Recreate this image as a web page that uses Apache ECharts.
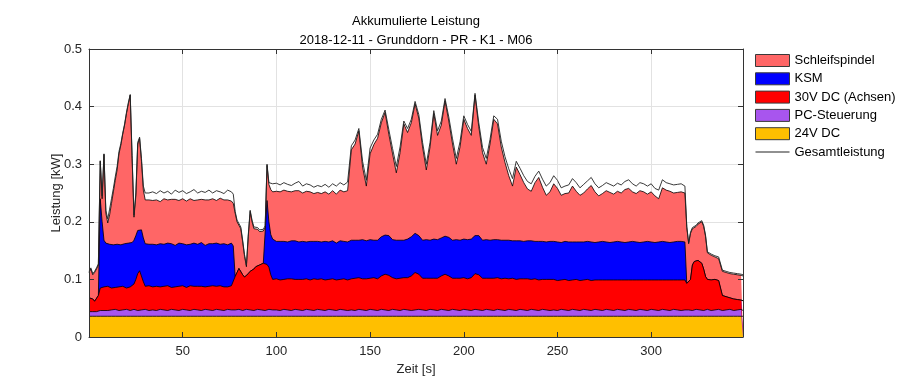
<!DOCTYPE html>
<html><head><meta charset="utf-8">
<script src="https://cdn.jsdelivr.net/npm/echarts@6/dist/echarts.min.js"></script>
<style>html,body{margin:0;padding:0;background:#fff}#c{width:912px;height:381px}</style>
</head><body><div id="c"></div>
<script>
// Zeit [s]
const time = [
0,1,2,3,4,5,6,7,8,9,10,11,12,13,14,15,16,17,18,19,20,21,22,23,24,25,26,27,28,29,30,31,32,
34,36,38,40,42,44,46,48,50,52,54,56,58,60,62,64,66,68,70,72,74,76,
77,78,79,80,81,82,83,84,85,86,87,88,89,90,91,92,93,94,95,96,97,98,99,
100,102,104,106,108,110,112,114,116,118,120,122,124,126,128,130,132,134,136,138,
140,142,144,146,148,150,152,154,156,158,160,162,164,166,168,170,172,174,176,178,
180,182,184,186,188,190,192,194,196,198,200,202,204,206,208,210,212,214,216,218,
220,222,224,226,228,230,232,234,236,238,240,242,244,246,
248,250,252,254,256,258,260,262,264,266,268,270,272,274,276,278,280,282,284,286,
288,290,292,294,296,298,300,302,304,306,308,310,312,314,
315,316,317,318,319,320,321,322,323,324,325,326,327,328,329,330,
332,334,336,338,340,342,344,346,348,349
];
// 24V DC [kW]
const dc24 = [
.036,.036,.036,.036,.036,.036,.036,.036,.036,.036,
.036,.036,.036,.036,.036,.036,.036,.036,.036,.036,
.036,.036,.036,.036,.036,.036,.036,.036,.036,.036,
.036,.036,.036,.036,.036,.036,.036,.036,.036,.036,
.036,.036,.036,.036,.036,.036,.036,.036,.036,.036,
.036,.036,.036,.036,.036,.036,.036,.036,.036,.036,
.036,.036,.036,.036,.036,.036,.036,.036,.036,.036,
.036,.036,.036,.036,.036,.036,.036,.036,.036,.036,
.036,.036,.036,.036,.036,.036,.036,.036,.036,.036,
.036,.036,.036,.036,.036,.036,.036,.036,.036,.036,
.036,.036,.036,.036,.036,.036,.036,.036,.036,.036,
.036,.036,.036,.036,.036,.036,.036,.036,.036,.036,
.036,.036,.036,.036,.036,.036,.036,.036,.036,.036,
.036,.036,.036,.036,.036,.036,.036,.036,.036,.036,
.036,.036,.036,.036,.036,.036,.036,.036,.036,.036,
.036,.036,.036,.036,.036,.036,.036,.036,.036,.036,
.036,.036,.036,.036,.036,.036,.036,.036,.036,.036,
.036,.036,.036,.036,.036,.036,.036,.036,.036,.036,
.036,.036,.036,.036,.036,.036,.036,.036,.036,.036,
.036,.036,.036,.036,.036,.036,.036,.036,.036,.036,
.036,.036,.036,.036,.036,.036,.036,.036,.036,.036,
.036,.036
];
// PC-Steuerung [kW]
const pcSteuerung = [
.008,.009,.008,.009,.008,.009,.010,.011,.010,.011,.010,.012,.011,.010,.012,.011,.010,.012,.011,.010,.012,.011,.010,.011,.012,.011,.010,.012,.011,.010,.012,.011,.010,
.011,.010,.012,.011,.010,.012,.011,.010,.012,.011,.010,.012,.011,.010,.012,.011,.010,.012,.011,.010,.012,.011,
.010,.011,.010,.012,.011,.010,.011,.012,.010,.011,.012,.010,.011,.012,.010,.011,.012,.010,.011,.012,.010,.011,.012,
.011,.010,.012,.011,.010,.012,.011,.010,.012,.011,.010,.012,.011,.010,.012,.011,.010,.012,.011,.010,
.011,.010,.012,.011,.010,.012,.011,.010,.012,.011,.010,.012,.011,.010,.012,.011,.010,.011,.012,.011,
.010,.012,.011,.010,.012,.011,.010,.012,.011,.010,.012,.011,.010,.012,.011,.010,.012,.011,.010,.012,
.011,.010,.012,.011,.010,.012,.011,.010,.012,.011,.010,.012,.011,.010,
.011,.010,.012,.011,.010,.012,.011,.010,.012,.011,.010,.012,.011,.010,.012,.011,.010,.012,.011,.010,
.012,.011,.010,.012,.011,.010,.012,.011,.010,.012,.011,.010,.012,.011,
.011,.010,.012,.011,.010,.011,.012,.010,.011,.012,.010,.011,.012,.010,.011,.012,
.010,.011,.012,.010,.011,.012,.010,.011,.012,.010
];
// 30V DC (Achsen) [kW]
const dc30Achsen = [
.024,.025,.022,.017,.020,.027,.039,.041,.041,.039,.042,.039,.038,.042,.038,.042,.041,.038,.041,.041,.037,.041,.041,.042,.044,.053,.064,.067,.065,.050,.040,.040,.043,
.040,.042,.039,.041,.043,.038,.040,.042,.041,.039,.043,.040,.041,.042,.039,.041,.043,.040,.042,.041,.039,.042,
.043,.058,.066,.071,.069,.062,.057,.058,.064,.067,.068,.072,.075,.076,.079,.080,.080,.083,.079,.073,.062,.053,.053,
.054,.053,.052,.054,.055,.052,.053,.054,.053,.052,.055,.052,.054,.053,.052,.054,.053,.052,.054,.053,
.054,.056,.055,.054,.055,.054,.056,.055,.058,.062,.061,.055,.054,.056,.055,.056,.060,.065,.061,.055,
.056,.054,.055,.056,.058,.062,.060,.054,.055,.056,.055,.054,.057,.062,.061,.056,.054,.055,.056,.055,
.054,.056,.053,.055,.054,.053,.054,.055,.052,.054,.053,.052,.053,.054,
.053,.052,.051,.053,.052,.051,.053,.052,.051,.053,.052,.051,.052,.053,.051,.052,.053,.051,.052,.053,
.051,.052,.053,.051,.052,.053,.051,.052,.053,.051,.052,.053,.051,.052,
.052,.053,.051,.052,.047,.046,.052,.079,.084,.084,.087,.083,.080,.072,.058,.052,
.053,.053,.050,.026,.023,.020,.020,.018,.016,.017
];
// KSM [kW]
const ksm = [
0,0,0,0,0,0,.155,.112,.081,.077,.074,.074,.078,.072,.076,.072,.076,.074,.073,.075,.075,.075,.075,.075,.076,.076,.075,.073,.074,.076,.074,.073,.072,
.074,.072,.075,.073,.074,.076,.072,.075,.073,.074,.072,.075,.073,.076,.072,.074,.073,.075,.072,.075,.073,.074,
.069,0,0,0,0,0,0,0,0,0,0,0,0,0,0,0,0,0,.111,.079,.070,.070,.066,
.065,.067,.066,.064,.066,.067,.065,.066,.064,.067,.065,.066,.064,.067,.065,.066,.064,.067,.065,.066,
.067,.066,.065,.068,.066,.067,.065,.067,.068,.068,.069,.066,.067,.066,.065,.067,.068,.068,.067,.066,
.067,.066,.068,.067,.066,.066,.067,.066,.067,.066,.067,.068,.067,.066,.068,.066,.067,.066,.067,.066,
.067,.066,.067,.065,.067,.066,.065,.066,.067,.065,.067,.066,.065,.066,
.066,.067,.065,.066,.067,.066,.065,.067,.066,.066,.067,.065,.066,.067,.066,.065,.066,.067,.066,.065,
.066,.067,.066,.065,.066,.067,.066,.065,.066,.067,.066,.065,.066,.067,
.066,.067,.066,.066,0,0,0,0,0,0,0,0,0,0,0,0,
0,0,0,0,0,0,0,0,0,0
];
// Schleifspindel [kW]
const schleifspindel = [
.044,.048,.042,.050,.054,.053,.065,.040,.149,.052,.036,.051,.069,.092,.110,.129,.155,.173,.191,.206,.228,.242,.258,.146,.040,.069,.150,.157,.119,.083,.076,.076,.077,
.076,.078,.073,.079,.075,.077,.080,.074,.078,.076,.079,.074,.077,.075,.079,.076,.078,.074,.080,.076,.078,.073,
.074,.110,.088,.079,.072,.057,.036,.016,.065,.104,.084,.070,.063,.063,.058,.059,.056,.061,.061,.065,.078,.082,.087,
.087,.086,.089,.088,.085,.087,.089,.084,.088,.086,.083,.085,.084,.086,.083,.087,.085,.088,.086,.089,
.157,.167,.190,.126,.095,.149,.166,.177,.198,.213,.176,.149,.117,.152,.202,.185,.198,.225,.204,.162,
.121,.162,.218,.181,.196,.235,.202,.167,.131,.162,.208,.193,.180,.244,.189,.152,.131,.167,.209,.201,
.162,.135,.112,.095,.128,.115,.102,.090,.086,.102,.111,.094,.081,.086,
.100,.093,.082,.083,.085,.097,.088,.081,.085,.091,.098,.088,.080,.083,.089,.087,.083,.087,.085,.092,
.093,.086,.084,.090,.087,.082,.087,.081,.075,.093,.090,.089,.085,.085,
.085,.086,.084,.085,.097,.069,.080,.063,.055,.060,.063,.064,.072,.074,.070,.046,
.043,.039,.038,.042,.042,.042,.043,.043,.043,.043
];
// Gesamtleistung [kW]
const gesamtleistung = [
.114,.120,.110,.114,.120,.127,.306,.245,.318,.220,.205,.222,.240,.258,.278,.296,.322,.336,.354,.370,.390,.407,.421,.315,.212,.250,.338,.347,.310,.262,.250,.252,.250,
.252,.249,.254,.250,.253,.248,.255,.251,.254,.249,.252,.256,.250,.253,.251,.255,.250,.254,.252,.249,.255,.252,
.248,.218,.203,.201,.191,.168,.143,.125,.178,.220,.203,.191,.188,.190,.186,.189,.187,.193,.300,.268,.268,.266,.264,
.267,.264,.268,.265,.263,.267,.270,.262,.266,.264,.260,.263,.261,.265,.260,.266,.262,.268,.264,.269,
.332,.342,.362,.305,.272,.328,.342,.352,.378,.394,.360,.327,.296,.330,.375,.362,.378,.409,.386,.338,
.300,.338,.393,.358,.375,.414,.382,.344,.310,.339,.384,.369,.357,.423,.372,.329,.310,.343,.384,.378,
.340,.313,.292,.275,.305,.293,.280,.270,.266,.279,.288,.274,.262,.268,
.280,.272,.259,.262,.264,.275,.268,.259,.265,.271,.277,.266,.259,.263,.268,.265,.262,.267,.264,.270,
.273,.266,.262,.268,.266,.262,.266,.258,.255,.273,.268,.266,.264,.265,
.264,.266,.263,.262,.192,.164,.182,.190,.188,.194,.198,.196,.202,.194,.177,.148,
.144,.141,.139,.116,.114,.112,.111,.110,.109,.108
];
const xTicks = [50,100,150,200,250,300];
const yTicks = [0,0.1,0.2,0.3,0.4,0.5];
const titleLines = ['Akkumulierte Leistung','2018-12-11 - Grunddorn - PR - K1 - M06'];

const FONT = '"Liberation Sans", Arial, Helvetica, sans-serif';
const TXT = '#262626';
const C = {s:'#FF6666', k:'#0000FF', r:'#FF0000', p:'#A855EE', o:'#FFBF00'};

// stacked layers, bottom to top; cumulative tops computed from the component arrays
const layers = [
  {name:'24V DC', data:dc24, color:C.o},
  {name:'PC-Steuerung', data:pcSteuerung, color:C.p},
  {name:'30V DC (Achsen)', data:dc30Achsen, color:C.r},
  {name:'KSM', data:ksm, color:C.k},
  {name:'Schleifspindel', data:schleifspindel, color:C.s}
];
const running = time.map(()=>0);
const layerSeries = layers.map((L, k) => {
  const pts = time.map((t,i) => { running[i] += L.data[i]; return [t, +running[i].toFixed(4)]; });
  return {name:L.name, type:'line', data:pts, symbol:'none', showSymbol:false, clip:false,
    lineStyle:{color:'#000', width:0.8}, areaStyle:{color:L.color, opacity:1, origin:'start'},
    itemStyle:{color:L.color}, z:7-k, silent:true};
});

const chart = echarts.init(document.getElementById('c'));
const axX = {type:'value', min:0, max:349, interval:50};
const axY = {type:'value', min:0, max:0.5, interval:0.1};
const lineAx = {show:true, onZero:false, lineStyle:{color:'#333', width:1}};
const tickAx = {show:true, inside:true, length:5, lineStyle:{color:'#333', width:1}};
chart.setOption({
  animation:false,
  backgroundColor:'#fff',
  grid:{left:89, top:49, width:654, height:290},
  xAxis:[
    Object.assign({}, axX, {position:'bottom', z:10, axisLine:lineAx, axisTick:tickAx, splitLine:{show:false},
      axisLabel:{margin:8, color:TXT, fontSize:13, fontFamily:FONT,
        formatter:v=> xTicks.indexOf(v) >= 0 ? String(v) : ''},
      name:'Zeit [s]', nameLocation:'middle', nameGap:26, nameMoveOverlap:false,
      nameTextStyle:{color:TXT, fontSize:13, fontFamily:FONT}}),
    Object.assign({}, axX, {position:'top', z:10, axisLine:lineAx, axisTick:tickAx, axisLabel:{show:false}, splitLine:{show:false}}),
    Object.assign({}, axX, {position:'bottom', z:0, axisLine:{show:false}, axisTick:{show:false}, axisLabel:{show:false},
      splitLine:{show:true, lineStyle:{color:'#e2e2e2', width:1}}})
  ],
  yAxis:[
    Object.assign({}, axY, {position:'left', z:10, axisLine:lineAx, axisTick:tickAx, splitLine:{show:false},
      axisLabel:{margin:7, color:TXT, fontSize:13, fontFamily:FONT,
        formatter:v=>{ const k = yTicks.findIndex(t=>Math.abs(t-v)<1e-9); return k<0 ? '' : (k===0 ? '0' : yTicks[k].toFixed(1)); }},
      name:'Leistung [kW]', nameLocation:'middle', nameGap:26, nameRotate:90, nameMoveOverlap:false,
      nameTextStyle:{color:TXT, fontSize:13, fontFamily:FONT}}),
    Object.assign({}, axY, {position:'right', z:10, axisLine:lineAx, axisTick:tickAx, axisLabel:{show:false}, splitLine:{show:false}}),
    Object.assign({}, axY, {position:'left', z:0, axisLine:{show:false}, axisTick:{show:false}, axisLabel:{show:false},
      splitLine:{show:true, lineStyle:{color:'#e2e2e2', width:1}}})
  ],
  legend:{
    orient:'vertical', left:755, top:54, padding:0, itemWidth:34, itemHeight:12, itemGap:5.3,
    selectedMode:false, textStyle:{fontSize:13, fontFamily:FONT, color:'#000'},
    data:[
      {name:'Schleifspindel', icon:'rect', itemStyle:{color:C.s, borderColor:'#3a3a3a', borderWidth:1}},
      {name:'KSM', icon:'rect', itemStyle:{color:C.k, borderColor:'#3a3a3a', borderWidth:1}},
      {name:'30V DC (Achsen)', icon:'rect', itemStyle:{color:C.r, borderColor:'#3a3a3a', borderWidth:1}},
      {name:'PC-Steuerung', icon:'rect', itemStyle:{color:C.p, borderColor:'#3a3a3a', borderWidth:1}},
      {name:'24V DC', icon:'rect', itemStyle:{color:C.o, borderColor:'#3a3a3a', borderWidth:1}},
      {name:'Gesamtleistung', icon:'path://M0,0h40v1h-40z', itemStyle:{color:'#222', borderWidth:0}}
    ]
  },
  graphic:[
    {type:'text', x:416, y:21, silent:true, style:{text:titleLines[0], fill:'#000', font:'13px '+FONT,
      align:'center', verticalAlign:'middle', textAlign:'center', textVerticalAlign:'middle'}},
    {type:'text', x:416, y:40, silent:true, style:{text:titleLines[1], fill:'#000', font:'13px '+FONT,
      align:'center', verticalAlign:'middle', textAlign:'center', textVerticalAlign:'middle'}}
  ],
  series: layerSeries.concat([
    {name:'Gesamtleistung', type:'line', data:time.map((t,i)=>[t, gesamtleistung[i]]), symbol:'none', showSymbol:false, clip:false,
      lineStyle:{color:'#222', width:0.9}, itemStyle:{color:'#222'}, z:8, silent:true}
  ])
});
</script></body></html>
